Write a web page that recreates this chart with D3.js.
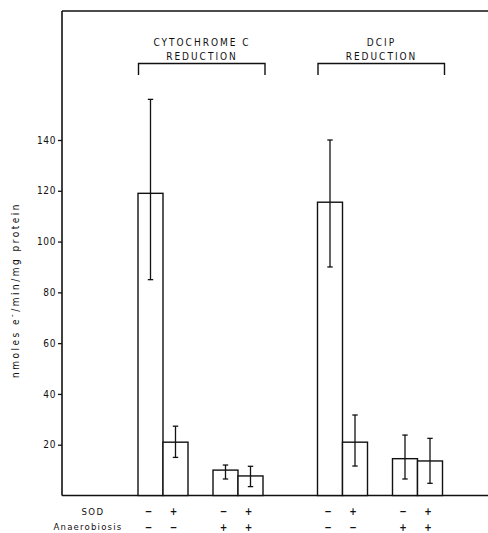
<!DOCTYPE html>
<html><head><meta charset="utf-8">
<script src="https://cdn.jsdelivr.net/npm/d3@7"></script>
<style>
body{margin:0;background:#fff}
svg{display:block}
text{font-family:"DejaVu Sans Condensed","DejaVu Sans",sans-serif;fill:#111}
</style></head><body>
<svg id="c" width="488" height="533"></svg>
<script>
// ---- data ----
const groups = ["CYTOCHROME C|REDUCTION", "DCIP|REDUCTION"];
const sodSigns = ["−", "+", "−", "+"];
const anaerSigns = ["−", "−", "+", "+"];
const cytMean = [119, 21, 10, 7.7];
const cytHi = [156, 27.3, 12, 11.5];
const cytLo = [85, 15, 6.5, 3.5];
const dcipMean = [115.5, 21, 14.5, 13.6];
const dcipHi = [140, 31.7, 23.8, 22.5];
const dcipLo = [90, 11.6, 6.5, 4.8];
const yTicks = [20, 40, 60, 80, 100, 120, 140];
const yLabel = "nmoles e";

const series = [
  {g: groups[0], mean: cytMean, hi: cytHi, lo: cytLo},
  {g: groups[1], mean: dcipMean, hi: dcipHi, lo: dcipLo}
];

const svg = d3.select("#c");
const frameL = 62, frameR = 488, frameT = 11, frameB = 495.5;

const y = d3.scaleLinear().domain([0, 140]).range([frameB, 140]);
const xg = d3.scaleBand().domain(groups).range([138, 497]);
const slots = ["c0", "c1", "gap", "c2", "c3"];
const xi = d3.scaleBand().domain(slots).range([0, 125]);
const slotOf = i => ["c0", "c1", "c2", "c3"][i];
const cx = (g, i) => xg(g) + xi(slotOf(i)) + xi.bandwidth() / 2;

// frame
svg.append("line").attr("x1", frameL).attr("x2", frameR).attr("y1", frameT).attr("y2", frameT)
  .attr("stroke", "#111").attr("stroke-width", 1.4);
svg.append("line").attr("x1", frameL).attr("x2", frameL).attr("y1", frameT).attr("y2", frameB)
  .attr("stroke", "#111").attr("stroke-width", 1.6);
svg.append("line").attr("x1", frameL).attr("x2", frameR).attr("y1", frameB).attr("y2", frameB)
  .attr("stroke", "#111").attr("stroke-width", 1.6);

// y axis
const ya = svg.append("g").attr("transform", `translate(${frameL},0)`)
  .call(d3.axisLeft(y).tickValues(yTicks).tickSize(4).tickPadding(2));
ya.select(".domain").remove();
ya.selectAll(".tick line").attr("stroke", "#111").attr("stroke-width", 1.3);
ya.selectAll(".tick text").style("font-family", '"DejaVu Sans Condensed","DejaVu Sans",sans-serif')
  .style("font-size", "10px").attr("fill", "#111").style("letter-spacing", "0.6px");

// y label
const yl = svg.append("text").attr("transform", "translate(19,290) rotate(-90)")
  .attr("text-anchor", "middle").style("font-size", "10px").style("letter-spacing", "2.5px");
yl.append("tspan").text(yLabel);
yl.append("tspan").text("-").attr("dy", -4).style("font-size", "8px");
yl.append("tspan").text("/min/mg protein").attr("dy", 4);

// bars
series.forEach(s => {
  const G = svg.append("g");
  s.mean.forEach((v, i) => {
    const x0 = xg(s.g) + xi(slotOf(i));
    G.append("rect").attr("x", x0).attr("y", y(v)).attr("width", xi.bandwidth())
      .attr("height", y(0) - y(v)).attr("fill", "#fff").attr("stroke", "#111").attr("stroke-width", 1.4);
  });
  s.mean.forEach((v, i) => {
    const c = cx(s.g, i);
    G.append("line").attr("x1", c).attr("x2", c).attr("y1", y(s.hi[i])).attr("y2", y(s.lo[i]))
      .attr("stroke", "#111").attr("stroke-width", 1.3);
    [s.hi[i], s.lo[i]].forEach(e => {
      G.append("line").attr("x1", c - 2.7).attr("x2", c + 2.7).attr("y1", y(e)).attr("y2", y(e))
        .attr("stroke", "#111").attr("stroke-width", 1.3);
    });
  });
  // bracket
  const bx0 = xg(s.g) + 0.5, bx1 = xg(s.g) + 127;
  G.append("path").attr("d", `M${bx0},75V63.5H${bx1}V75`).attr("fill", "none")
    .attr("stroke", "#111").attr("stroke-width", 1.4);
  const lines = s.g.split("|");
  const mid = xg(s.g) + 63;
  lines.forEach((t, k) => {
    G.append("text").attr("x", mid + 1).attr("y", 45.5 + k * 14).attr("text-anchor", "middle")
      .style("font-size", "10px").style("letter-spacing", "2px").text(t);
  });
  // signs
  s.mean.forEach((v, i) => {
    const c = cx(s.g, i);
    G.append("text").attr("x", c - 2).attr("y", 515).attr("text-anchor", "middle")
      .style("font-size", "10px").style("font-weight", "bold").text(sodSigns[i]);
    G.append("text").attr("x", c - 2).attr("y", 531).attr("text-anchor", "middle")
      .style("font-size", "10px").style("font-weight", "bold").text(anaerSigns[i]);
  });
});

svg.append("text").attr("x", 93).attr("y", 514.5).attr("text-anchor", "middle")
  .style("font-size", "9.5px").style("letter-spacing", "1.5px").text("SOD");
svg.append("text").attr("x", 88).attr("y", 530).attr("text-anchor", "middle")
  .style("font-size", "9.5px").style("letter-spacing", "1.2px").text("Anaerobiosis");
</script>
</body></html>
